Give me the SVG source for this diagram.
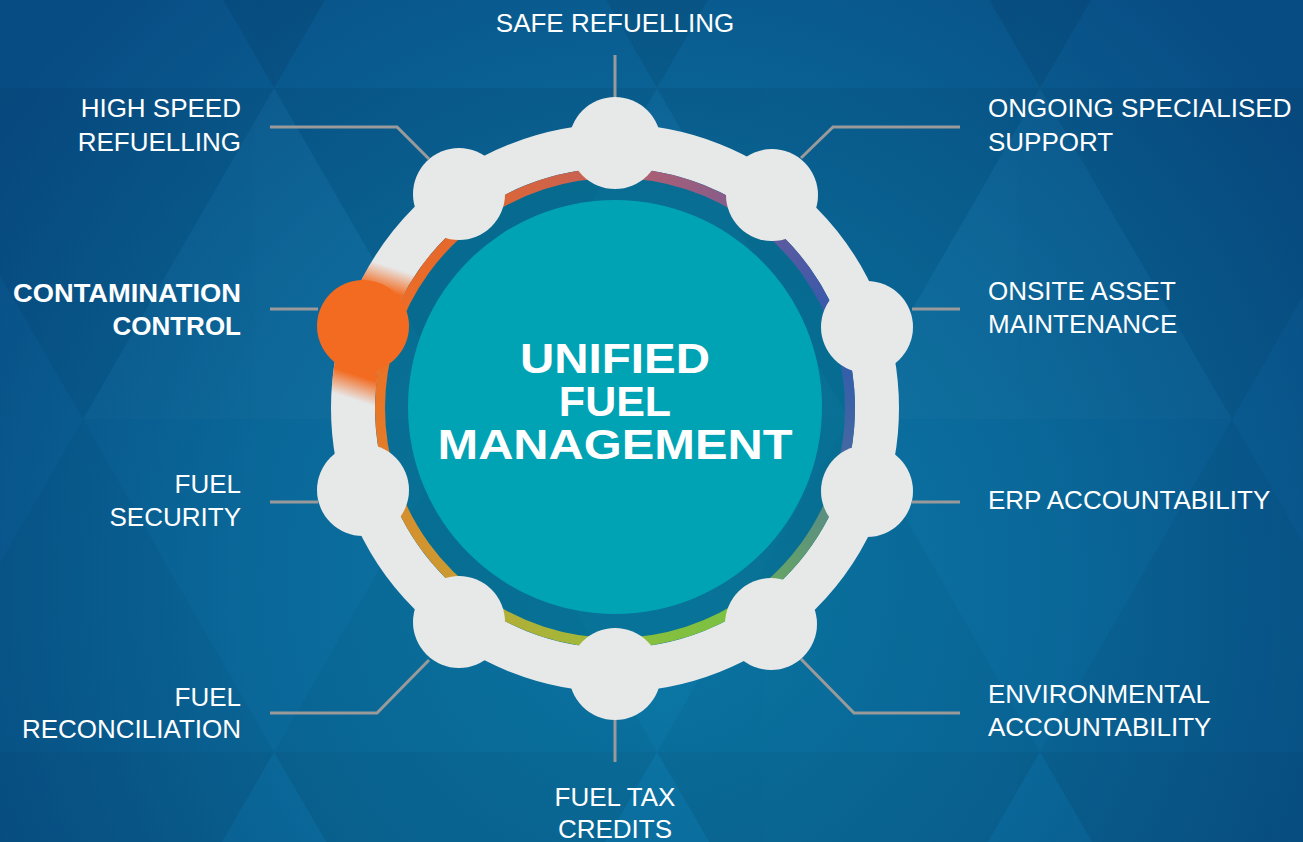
<svg xmlns="http://www.w3.org/2000/svg" width="1303" height="842" viewBox="0 0 1303 842">
<defs>
<radialGradient id="bg" gradientUnits="userSpaceOnUse" cx="650" cy="580" r="800">
<stop offset="0" stop-color="#0b7aa7"/>
<stop offset="0.5" stop-color="#0a6899"/>
<stop offset="1" stop-color="#084c84"/>
</radialGradient>
<linearGradient id="fade" gradientUnits="userSpaceOnUse" x1="403" y1="254" x2="353" y2="408">
<stop offset="0.10" stop-color="#f26b21" stop-opacity="0"/>
<stop offset="0.25" stop-color="#f26b21" stop-opacity="1"/>
<stop offset="0.80" stop-color="#f26b21" stop-opacity="1"/>
<stop offset="0.95" stop-color="#f26b21" stop-opacity="0"/>
</linearGradient>
<linearGradient id="s1" gradientUnits="userSpaceOnUse" x1="391.5" y1="335.4" x2="476.9" y2="217.9"><stop offset="0" stop-color="#ee6e24"/><stop offset="1" stop-color="#e2672f"/></linearGradient>
<linearGradient id="s2" gradientUnits="userSpaceOnUse" x1="476.9" y1="217.9" x2="615" y2="173"><stop offset="0" stop-color="#e2672f"/><stop offset="1" stop-color="#c2605a"/></linearGradient>
<linearGradient id="s3" gradientUnits="userSpaceOnUse" x1="615" y1="173" x2="753.1" y2="217.9"><stop offset="0" stop-color="#b8606c"/><stop offset="1" stop-color="#7a5c92"/></linearGradient>
<linearGradient id="s4" gradientUnits="userSpaceOnUse" x1="753.1" y1="217.9" x2="838.5" y2="335.4"><stop offset="0" stop-color="#685b9c"/><stop offset="1" stop-color="#2e59ae"/></linearGradient>
<linearGradient id="s5" gradientUnits="userSpaceOnUse" x1="838.5" y1="335.4" x2="838.5" y2="480.6"><stop offset="0" stop-color="#2f5aad"/><stop offset="1" stop-color="#4a6c9e"/></linearGradient>
<linearGradient id="s6" gradientUnits="userSpaceOnUse" x1="838.5" y1="480.6" x2="753.1" y2="598.1"><stop offset="0" stop-color="#55868c"/><stop offset="1" stop-color="#6aab5c"/></linearGradient>
<linearGradient id="s7" gradientUnits="userSpaceOnUse" x1="753.1" y1="598.1" x2="615" y2="643"><stop offset="0" stop-color="#78c244"/><stop offset="1" stop-color="#8cbe3c"/></linearGradient>
<linearGradient id="s8" gradientUnits="userSpaceOnUse" x1="615" y1="643" x2="476.9" y2="598.1"><stop offset="0" stop-color="#9cbb3a"/><stop offset="1" stop-color="#b8ab36"/></linearGradient>
<linearGradient id="s9" gradientUnits="userSpaceOnUse" x1="476.9" y1="598.1" x2="391.5" y2="480.6"><stop offset="0" stop-color="#c89f33"/><stop offset="1" stop-color="#da8a2c"/></linearGradient>
<linearGradient id="s10" gradientUnits="userSpaceOnUse" x1="391.5" y1="480.6" x2="391.5" y2="335.4"><stop offset="0" stop-color="#e2802a"/><stop offset="1" stop-color="#ee6e24"/></linearGradient>
</defs>
<style>
.lbl{fill:#ffffff;font-family:"Liberation Sans",Arial,sans-serif;font-size:26px}
.b{font-weight:bold}
.l{text-anchor:end}
.c{text-anchor:middle}
.node{fill:#e7e8e8}
.conn{fill:none;stroke:#9a9a9a;stroke-width:3}
.seg{fill:none;stroke-width:10}
.dk{fill:#000000}
.lt{fill:#ffffff}
.title{fill:#ffffff;font-family:"Liberation Sans",Arial,sans-serif;font-size:43px;font-weight:bold;text-anchor:middle}
</style>

<g id="background">
<rect x="0" y="0" width="1303" height="842" fill="url(#bg)"/>
<g class="dk" opacity="0.07">
<polygon points="83,-244 466,-244 274,88"/>
<polygon points="466,-244 849,-244 657,88"/>
<polygon points="849,-244 1232,-244 1040,88"/>
</g>
<g class="dk" opacity="0.05">
<polygon points="-109,88 274,88 83,419"/>
<polygon points="274,88 657,88 466,419"/>
<polygon points="657,88 1040,88 849,419"/>
<polygon points="1040,88 1423,88 1232,419"/>
</g>
<g class="lt" opacity="0.015">
<polygon points="83,419 466,419 274,88"/>
<polygon points="466,419 849,419 657,88"/>
<polygon points="849,419 1232,419 1040,88"/>
</g>
<g class="dk" opacity="0.03">
<polygon points="-109,752 274,752 83,419"/>
<polygon points="274,752 657,752 466,419"/>
<polygon points="657,752 1040,752 849,419"/>
<polygon points="1040,752 1423,752 1232,419"/>
</g>
<g class="dk" opacity="0.07">
<polygon points="-109,752 274,752 83,1083"/>
<polygon points="274,752 657,752 466,1083"/>
<polygon points="657,752 1040,752 849,1083"/>
<polygon points="1040,752 1423,752 1232,1083"/>
</g>
</g>

<g id="hub">
<circle cx="615" cy="408" r="232" fill="#06708f" opacity="0.6"/>
<circle cx="615" cy="407" r="207" fill="#00a3b4"/>
<circle cx="615" cy="408" r="262" fill="none" stroke="#e7e8e8" stroke-width="44"/>
<path d="M403 254 A262 262 0 0 0 353 408" fill="none" stroke="url(#fade)" stroke-width="44"/>
<path class="seg" stroke="url(#s1)" d="M391.5 335.4 A235 235 0 0 1 476.9 217.9"/>
<path class="seg" stroke="url(#s2)" d="M476.9 217.9 A235 235 0 0 1 615 173"/>
<path class="seg" stroke="url(#s3)" d="M615 173 A235 235 0 0 1 753.1 217.9"/>
<path class="seg" stroke="url(#s4)" d="M753.1 217.9 A235 235 0 0 1 838.5 335.4"/>
<path class="seg" stroke="url(#s5)" d="M838.5 335.4 A235 235 0 0 1 838.5 480.6"/>
<path class="seg" stroke="url(#s6)" d="M838.5 480.6 A235 235 0 0 1 753.1 598.1"/>
<path class="seg" stroke="url(#s7)" d="M753.1 598.1 A235 235 0 0 1 615 643"/>
<path class="seg" stroke="url(#s8)" d="M615 643 A235 235 0 0 1 476.9 598.1"/>
<path class="seg" stroke="url(#s9)" d="M476.9 598.1 A235 235 0 0 1 391.5 480.6"/>
<path class="seg" stroke="url(#s10)" d="M391.5 480.6 A235 235 0 0 1 391.5 335.4"/>
<text class="title" x="615" y="373" textLength="190" lengthAdjust="spacingAndGlyphs">UNIFIED</text>
<text class="title" x="615" y="416">FUEL</text>
<text class="title" x="615" y="459" textLength="355" lengthAdjust="spacingAndGlyphs">MANAGEMENT</text>
</g>

<g id="connectors">
<polyline class="conn" points="615,55 615,98"/>
<polyline class="conn" points="270,127 397,127 429,159"/>
<polyline class="conn" points="270,309 318,309"/>
<polyline class="conn" points="270,502 318,502"/>
<polyline class="conn" points="270,713 377,713 429,660"/>
<polyline class="conn" points="615,718 615,762"/>
<polyline class="conn" points="801,659 854,713 960,713"/>
<polyline class="conn" points="912,502 960,502"/>
<polyline class="conn" points="912,309 960,309"/>
<polyline class="conn" points="801,158 833,127 960,127"/>
</g>

<g id="node-safe-refuelling">
<circle class="node" cx="615" cy="143" r="46"/>
<text class="lbl c" x="615" y="32">SAFE REFUELLING</text>
</g>
<g id="node-ongoing-support">
<circle class="node" cx="772" cy="195" r="46"/>
<text class="lbl" x="988" y="117">ONGOING SPECIALISED</text>
<text class="lbl" x="988" y="151">SUPPORT</text>
</g>
<g id="node-onsite-asset">
<circle class="node" cx="867" cy="327" r="46"/>
<text class="lbl" x="988" y="300">ONSITE ASSET</text>
<text class="lbl" x="988" y="333">MAINTENANCE</text>
</g>
<g id="node-erp">
<circle class="node" cx="867" cy="491" r="46"/>
<text class="lbl" x="988" y="509">ERP ACCOUNTABILITY</text>
</g>
<g id="node-environmental">
<circle class="node" cx="771" cy="624" r="46"/>
<text class="lbl" x="988" y="703">ENVIRONMENTAL</text>
<text class="lbl" x="988" y="736">ACCOUNTABILITY</text>
</g>
<g id="node-fuel-tax">
<circle class="node" cx="615" cy="674" r="46"/>
<text class="lbl c" x="615" y="806">FUEL TAX</text>
<text class="lbl c" x="615" y="838">CREDITS</text>
</g>
<g id="node-fuel-reconciliation">
<circle class="node" cx="459" cy="622" r="46"/>
<text class="lbl l" x="241" y="706">FUEL</text>
<text class="lbl l" x="241" y="738">RECONCILIATION</text>
</g>
<g id="node-fuel-security">
<circle class="node" cx="363" cy="490" r="46"/>
<text class="lbl l" x="241" y="493">FUEL</text>
<text class="lbl l" x="241" y="526">SECURITY</text>
</g>
<g id="node-contamination-control">
<circle cx="363" cy="326" r="46" fill="#f26b21"/>
<text class="lbl l b" x="241" y="302" textLength="228" lengthAdjust="spacingAndGlyphs">CONTAMINATION</text>
<text class="lbl l b" x="241" y="335">CONTROL</text>
</g>
<g id="node-high-speed">
<circle class="node" cx="459" cy="194" r="46"/>
<text class="lbl l" x="241" y="117">HIGH SPEED</text>
<text class="lbl l" x="241" y="151">REFUELLING</text>
</g>
</svg>
